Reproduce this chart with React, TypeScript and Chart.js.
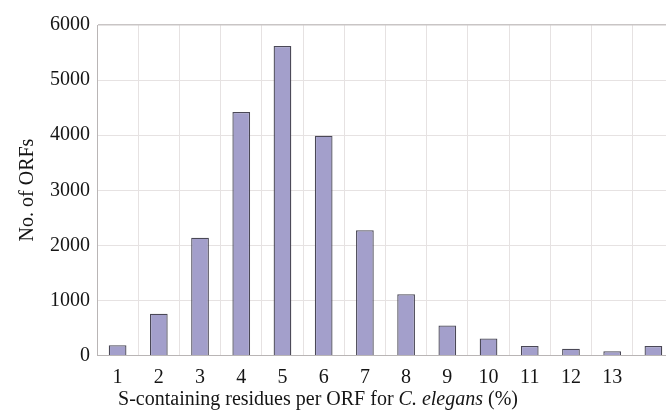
import React, { useEffect, useRef } from "react";
import { Chart, registerables } from "chart.js";

Chart.register(...registerables);

const categories = ["1", "2", "3", "4", "5", "6", "7", "8", "9", "10", "11", "12", "13", ""];
const orfCounts = [190, 760, 2140, 4420, 5620, 3990, 2275, 1115, 545, 310, 175, 125, 80, 175];
const yTicks = [0, 1000, 2000, 3000, 4000, 5000, 6000];
const xTitleParts = [
  { text: "S-containing residues per ORF for ", italic: false },
  { text: "C. elegans", italic: true },
  { text: " (%)", italic: false },
];
const yTitle = "No. of ORFs";

const FONT = "'Liberation Serif', 'Times New Roman', serif";

export default function App() {
  const ref = useRef<HTMLCanvasElement | null>(null);

  useEffect(() => {
    if (!ref.current) return;
    const titlePlugin = {
      id: "titles",
      afterDraw(chart: any) {
        const ctx = chart.ctx as CanvasRenderingContext2D;
        const area = chart.chartArea;
        ctx.save();
        ctx.fillStyle = "#151515";
        ctx.textBaseline = "alphabetic";
        let total = 0;
        const widths: number[] = [];
        for (const p of xTitleParts) {
          ctx.font = `${p.italic ? "italic " : ""}20px ${FONT}`;
          const w = ctx.measureText(p.text).width;
          widths.push(w);
          total += w;
        }
        let x = area.left + 221 - total / 2;
        const y = 405;
        xTitleParts.forEach((p, i) => {
          ctx.font = `${p.italic ? "italic " : ""}20px ${FONT}`;
          ctx.textAlign = "left";
          ctx.fillText(p.text, x, y);
          x += widths[i];
        });
        ctx.translate(28, 190);
        ctx.rotate(-Math.PI / 2);
        ctx.font = `20px ${FONT}`;
        ctx.textAlign = "center";
        ctx.textBaseline = "middle";
        ctx.fillText(yTitle, 0, 0);
        ctx.restore();
      },
    };

    const chart = new Chart(ref.current, {
      type: "bar",
      data: {
        labels: categories,
        datasets: [
          {
            data: orfCounts,
            backgroundColor: "#a39fcb",
            borderColor: "#4a4856",
            borderWidth: 1.3,
            barPercentage: 0.43,
            categoryPercentage: 1,
          },
        ],
      },
      options: {
        responsive: false,
        animation: false,
        layout: { padding: { top: 25, right: 0, left: 0, bottom: 0 } },
        plugins: { legend: { display: false }, tooltip: { enabled: false } },
        scales: {
          x: {
            grid: { color: "#e6e2e2", lineWidth: 1, drawTicks: false, offset: true },
            border: { color: "#b9b5b5" },
            ticks: { color: "#151515", font: { family: FONT, size: 20 }, padding: 10, maxRotation: 0, autoSkip: false },
            afterFit(scale: any) {
              scale.height = 56.4;
            },
          },
          y: {
            min: 0,
            max: 6000,
            afterBuildTicks(scale: any) {
              scale.ticks = yTicks.map((v) => ({ value: v }));
            },
            grid: {
              color: (c: any) => (c.tick && c.tick.value === 6000 ? "#c9c5c5" : "#e6e2e2"),
              lineWidth: (c: any) => (c.tick && c.tick.value === 6000 ? 1.5 : 1),
              drawTicks: false,
            },
            border: { color: "#b9b5b5" },
            ticks: {
              color: "#151515",
              font: { family: FONT, size: 20 },
              padding: 7,
              callback: (v: any) => String(v),
            },
            afterFit(scale: any) {
              scale.width = 97;
            },
          },
        },
      },
      plugins: [titlePlugin],
    });
    return () => chart.destroy();
  }, []);

  return (
    <div style={{ position: "fixed", left: 0, top: 0, width: 666, height: 412, overflow: "hidden", background: "#fff" }}>
      <canvas ref={ref} width={674} height={412} style={{ display: "block" }} />
    </div>
  );
}
